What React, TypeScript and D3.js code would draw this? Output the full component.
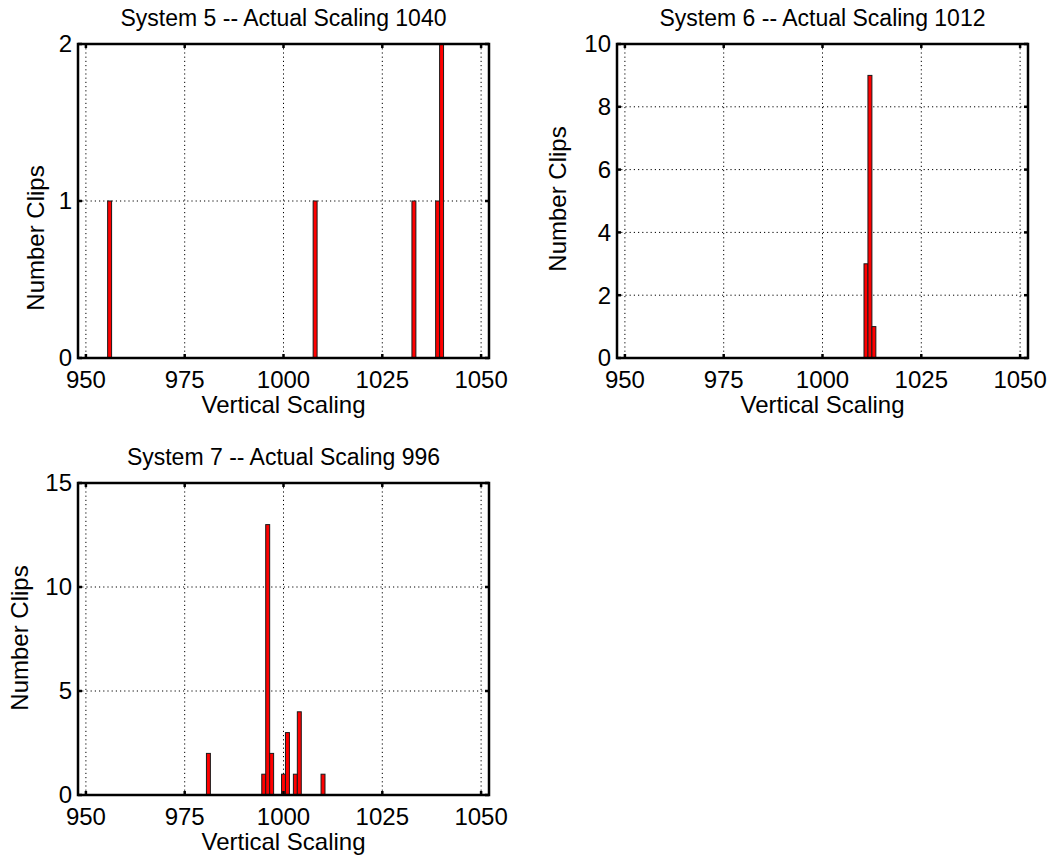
import React from "react";
import * as d3 from "d3";

const xTicks = [950, 975, 1000, 1025, 1050];
const xDomain: [number, number] = [948, 1052];

const sys5Bins = [956, 1008, 1033, 1039, 1040];
const sys5Counts = [1, 1, 1, 1, 2];
const sys5YTicks = [0, 1, 2];

const sys6Bins = [1011, 1012, 1013];
const sys6Counts = [3, 9, 1];
const sys6YTicks = [0, 2, 4, 6, 8, 10];

const sys7Bins = [981, 995, 996, 997, 1000, 1001, 1003, 1004, 1010];
const sys7Counts = [2, 1, 13, 2, 1, 3, 1, 4, 1];
const sys7YTicks = [0, 5, 10, 15];

const titles = [
  "System 5 -- Actual Scaling 1040",
  "System 6 -- Actual Scaling 1012",
  "System 7 -- Actual Scaling 996",
];
const xLabel = "Vertical Scaling";
const yLabel = "Number Clips";

const FONT = "'Liberation Sans', Arial, Helvetica, sans-serif";
const FS = 24;
const TITLE_FS = 23;

type PanelProps = {
  left: number;
  top: number;
  width: number;
  height: number;
  bins: number[];
  counts: number[];
  yTicks: number[];
  title: string;
  yLabelX: number;
  yLabelY: number;
};

function Panel({ left, top, width, height, bins, counts, yTicks, title, yLabelX, yLabelY }: PanelProps) {
  const x = d3.scaleLinear().domain(xDomain).range([left, left + width]);
  const yMax = yTicks[yTicks.length - 1];
  const y = d3.scaleLinear().domain([0, yMax]).range([top + height, top]);
  const bottom = top + height;
  const right = left + width;
  const tl = 4;
  return (
    <g>
      {xTicks.map((t) => (
        <line key={"gx" + t} x1={x(t)} x2={x(t)} y1={top} y2={bottom} stroke="#000" strokeWidth={1} strokeDasharray="1.2 3" />
      ))}
      {yTicks.map((t) => (
        <line key={"gy" + t} x1={left} x2={right} y1={y(t)} y2={y(t)} stroke="#000" strokeWidth={1} strokeDasharray="1.2 3" />
      ))}
      {bins.map((b, i) => (
        <rect
          key={"b" + b}
          x={x(b - 0.5)}
          y={y(counts[i])}
          width={x(b + 0.5) - x(b - 0.5)}
          height={bottom - y(counts[i])}
          fill="#ff0000"
          stroke="#1a1a1a"
          strokeWidth={1}
        />
      ))}
      {xTicks.map((t) => (
        <g key={"tx" + t}>
          <line x1={x(t)} x2={x(t)} y1={bottom} y2={bottom - tl} stroke="#000" strokeWidth={2.5} />
          <line x1={x(t)} x2={x(t)} y1={top} y2={top + tl} stroke="#000" strokeWidth={2.5} />
          <text x={x(t)} y={bottom + 30} textAnchor="middle" fontFamily={FONT} fontSize={FS} fill="#000">
            {t}
          </text>
        </g>
      ))}
      {yTicks.map((t) => (
        <g key={"ty" + t}>
          <line x1={left} x2={left + tl} y1={y(t)} y2={y(t)} stroke="#000" strokeWidth={2.5} />
          <line x1={right} x2={right - tl} y1={y(t)} y2={y(t)} stroke="#000" strokeWidth={2.5} />
          <text x={left - 6} y={y(t)} dy="0.35em" textAnchor="end" fontFamily={FONT} fontSize={FS} fill="#000">
            {t}
          </text>
        </g>
      ))}
      <rect x={left} y={top} width={width} height={height} fill="none" stroke="#000" strokeWidth={2.5} />
      <text x={(left + right) / 2} y={top - 18} textAnchor="middle" fontFamily={FONT} fontSize={TITLE_FS} fill="#000">
        {title}
      </text>
      <text x={(left + right) / 2} y={bottom + 55} textAnchor="middle" fontFamily={FONT} fontSize={FS} fill="#000">
        {xLabel}
      </text>
      <text
        transform={`translate(${yLabelX},${yLabelY}) rotate(-90)`}
        dy="0.35em"
        textAnchor="middle"
        fontFamily={FONT}
        fontSize={FS}
        fill="#000"
      >
        {yLabel}
      </text>
    </g>
  );
}

export default function App() {
  return (
    <svg
      width={1052}
      height={863}
      style={{ position: "absolute", left: 0, top: 0, background: "#fff" }}
    >
      <rect x={0} y={0} width={1052} height={863} fill="#fff" />
      <Panel left={78} top={44} width={411} height={314} bins={sys5Bins} counts={sys5Counts} yTicks={sys5YTicks} title={titles[0]} yLabelX={36} yLabelY={238} />
      <Panel left={617} top={44} width={411} height={314} bins={sys6Bins} counts={sys6Counts} yTicks={sys6YTicks} title={titles[1]} yLabelX={558} yLabelY={199} />
      <Panel left={78} top={483} width={411} height={312} bins={sys7Bins} counts={sys7Counts} yTicks={sys7YTicks} title={titles[2]} yLabelX={20} yLabelY={638} />
    </svg>
  );
}
